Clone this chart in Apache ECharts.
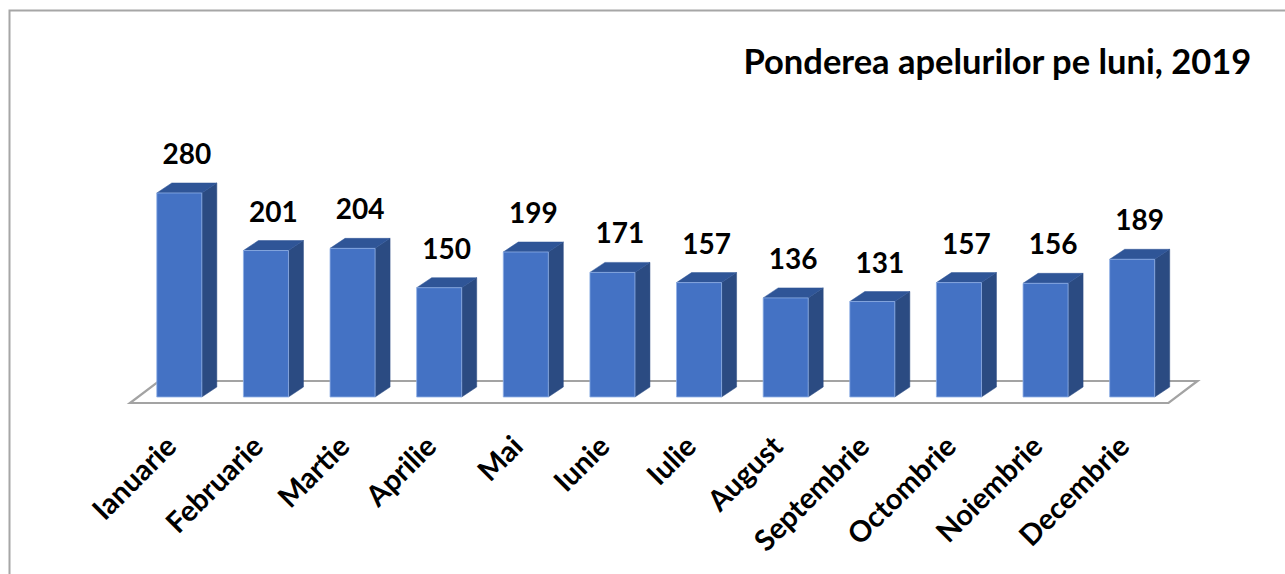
<!DOCTYPE html>
<html>
<head>
<meta charset="utf-8">
<script src="https://cdn.jsdelivr.net/npm/echarts@6/dist/echarts.min.js"></script>
<style>
html,body{margin:0;padding:0;background:#fff;}
#chart{width:1285px;height:574px;}
</style>
</head>
<body>
<div id="chart"></div>
<script>
const titleText = 'Ponderea apelurilor pe luni, 2019';
const months = ['Ianuarie','Februarie','Martie','Aprilie','Mai','Iunie','Iulie','August','Septembrie','Octombrie','Noiembrie','Decembrie'];
const calls = [280, 201, 204, 150, 199, 171, 157, 136, 131, 157, 156, 189];

const FONT = 'Lato, "Open Sans", sans-serif';
const DX = 15, DY = 10;

const chart = echarts.init(document.getElementById('chart'), null, {renderer: 'svg'});

function renderBar(params, api) {
  const idx = api.value(0);
  const v = api.value(1);
  const top = api.coord([idx, v]);
  const base = api.coord([idx, 0]);
  const bw = api.size([1, 0])[0] * 0.52;
  const l = top[0] - bw / 2, r = top[0] + bw / 2;
  const t = top[1], b = base[1];
  return {
    type: 'group',
    children: [
      {type: 'polygon', shape: {points: [[r, t], [r + DX, t - DY], [r + DX, b - DY], [r, b]]},
       style: {fill: '#2b4b82', stroke: '#2b4b82', lineWidth: 0.5}},
      {type: 'polygon', shape: {points: [[l, t], [l + DX, t - DY], [r + DX, t - DY], [r, t]]},
       style: {fill: '#2f5597', stroke: '#2f5597', lineWidth: 0.5}},
      {type: 'rect', shape: {x: l, y: t, width: bw, height: b - t},
       style: {fill: '#4472c4', stroke: '#8fb0e6', lineWidth: 0.8}},
      {type: 'text', x: top[0] + DX / 2, y: t - 40,
       style: {text: String(v), fill: '#000', font: 'bold 28px ' + FONT, align: 'center', verticalAlign: 'middle'}}
    ]
  };
}

function renderFloor(params, api) {
  const cs = params.coordSys;
  const b = cs.y + cs.height;
  const L = cs.x, R = cs.x + cs.width;
  return {
    type: 'polygon',
    shape: {points: [[L - 6, b + 6], [R - 7, b + 6], [R + 22, b - 16], [L + 23, b - 16]]},
    style: {fill: '#ffffff', stroke: '#a3a3a3', lineWidth: 2.2}
  };
}

chart.setOption({
  animation: false,
  backgroundColor: '#ffffff',
  title: {
    text: titleText, right: 28, top: 38,
    textStyle: {fontFamily: FONT, fontWeight: 'bold', fontSize: 34.5, color: '#000'}
  },
  graphic: [{
    type: 'rect', shape: {x: 9.5, y: 10.5, width: 1300, height: 600},
    style: {fill: 'none', stroke: '#a6a6a6', lineWidth: 2}, silent: true, z: 100
  }],
  grid: {left: 136, right: 109.5, top: 178.4, bottom: 177},
  xAxis: {
    type: 'category', data: months,
    axisLine: {show: false}, axisTick: {show: false},
    axisLabel: {rotate: 45, margin: 34, interval: 0, padding: [0, 13, 0, 0], color: '#000', fontFamily: FONT, fontWeight: 'bold', fontSize: 29}
  },
  yAxis: {type: 'value', min: 0, max: 300, show: false, splitLine: {show: false}},
  series: [
    {type: 'custom', renderItem: renderFloor, data: [[0, 0]], z: 1, silent: true},
    {type: 'custom', renderItem: renderBar, data: calls.map((v, i) => [i, v]), z: 2}
  ]
});
</script>
</body>
</html>
